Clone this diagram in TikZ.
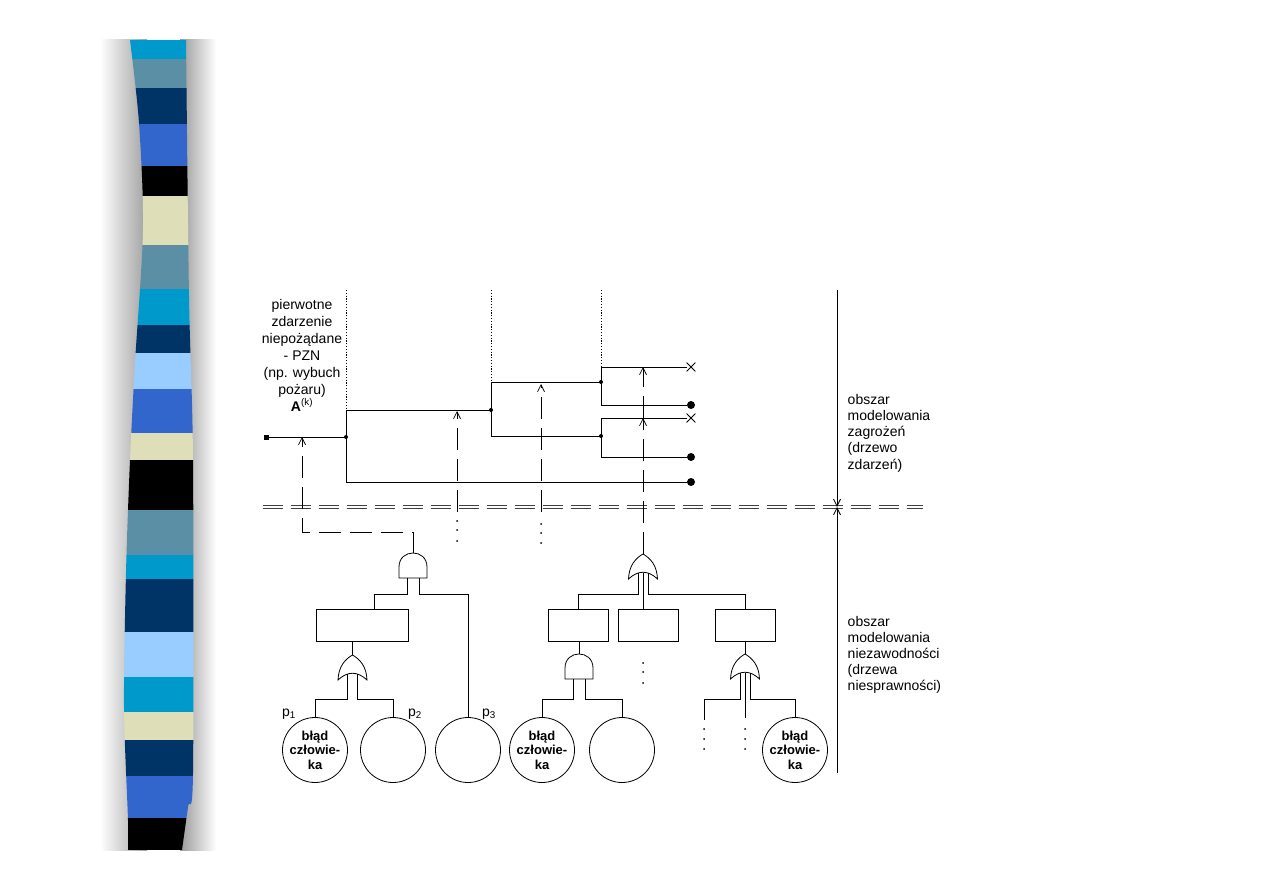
\documentclass[tikz,border=0pt]{standalone}
\usepackage{fontspec}
\setmainfont{Liberation Sans}
\usetikzlibrary{arrows.meta,shapes.misc}

\definecolor{stcyan}{HTML}{0099CC}
\definecolor{stgrey}{HTML}{5A8FA6}
\definecolor{stnavy}{HTML}{003366}
\definecolor{stblue}{HTML}{3366CC}
\definecolor{stbeige}{HTML}{DEDEB8}
\definecolor{stlight}{HTML}{99CCFF}

\begin{document}
\begin{tikzpicture}[
  x=1pt, y=-1pt, line width=0.8pt,
  every node/.style={font=\fontsize{14}{17}\selectfont},
  event/.style={draw, minimum height=32pt, minimum width=60pt, inner sep=0pt},
  basic/.style={draw, circle, minimum size=65pt, inner sep=0pt, align=center,
    font=\fontsize{13}{14.5}\selectfont\bfseries},
  endfail/.style={draw, cross out, minimum size=8pt, inner sep=0pt, line width=0.8pt},
  endok/.style={fill, circle, minimum size=8pt, inner sep=0pt},
  startsq/.style={fill, rectangle, minimum size=5pt, inner sep=0pt},
  dashline/.style={dash pattern=on 22pt off 9pt, line width=0.7pt},
  guide/.style={dash pattern=on 1.2pt off 1.6pt, line width=0.6pt},
  sepline/.style={line width=0.7pt, draw=black!75, dash pattern=on 20pt off 8pt},
  barb/.tip={Straight Barb[length=7pt, width=7pt]},
  andgate/.pic={
    \draw[fill=white] (-14,0) -- (-14,-11) .. controls (-14,-29.7) and (14,-29.7) .. (14,-11) -- (14,0) -- cycle;
    \coordinate (-top) at (0,-25);
    \coordinate (-l) at (-6,0);
    \coordinate (-r) at (6,0);
  },
  orgate/.pic={
    \draw[fill=white] (-14.5,0) .. controls (-14,-14) and (-7,-21) .. (0,-25)
      .. controls (7,-21) and (14,-14) .. (14.5,0)
      .. controls (5,-9) and (-5,-9) .. cycle;
    \coordinate (-top) at (0,-25);
    \coordinate (-l) at (-5,-6);
    \coordinate (-c) at (0,-6.5);
    \coordinate (-r) at (5,-6);
  }
]
\fill[white] (0,0) rectangle (1263,893);

% striped side bar
\shade[left color=white, right color=gray!75] (100,40) rectangle (147,850);
\shade[left color=gray!80, right color=white] (180,40) rectangle (216,850);
\begin{scope}
  \clip plot[smooth] coordinates {(130,40) (139,123) (143,230) (135,363) (130,460)
      (126,573) (124,707) (128,820) (128,850)}
    -- plot[smooth] coordinates {(182,850) (188,807) (193,773) (193,460) (189,297) (186,40)} -- cycle;
  \foreach \ya/\yb/\c in {40/59/stcyan, 59/88/stgrey, 88/124/stnavy, 124/166/stblue,
      166/196/black, 196/245/stbeige, 245/289/stgrey, 289/325/stcyan, 325/353/stnavy,
      353/389/stlight, 389/433/stblue, 433/460/stbeige, 460/510/black, 510/555/stgrey,
      555/579/stcyan, 579/632/stnavy, 632/677/stlight, 677/712/stcyan, 712/740/stbeige,
      740/776/stnavy, 776/818/stblue, 818/850/black}
    \fill[\c] (110,\ya) rectangle (210,\yb);
\end{scope}

% event tree
\coordinate (top) at (0,290);
\node[startsq] (pzn) at (266,437) {};
\coordinate (j0) at (346,437);
\coordinate (j1) at (491,410);
\coordinate (j2) at (601,382);
\coordinate (j3) at (601,436);
\node[endfail] (x1) at (691,367) {};
\node[endok] (o1) at (691,405) {};
\node[endfail] (x2) at (691,418) {};
\node[endok] (o2) at (691,457) {};
\node[endok] (o3) at (691,482) {};

\draw[guide] (j0 |- top) -- (j0 |- j1);
\draw[guide] (j1 |- top) -- (j1 |- j2);
\draw[guide] (j2 |- top) -- (j2 |- x1);

\draw (pzn) -- (j0);
\draw (j0) |- (j1);
\draw (j0) |- (o3);
\draw (j1) |- (j2);
\draw (j1) |- (j3);
\draw (j2) |- (x1);
\draw (j2) |- (o1);
\draw (j3) |- (x2);
\draw (j3) |- (o2);
\foreach \j in {j0,j1,j2,j3}
  \fill (\j) circle (2);

\node[align=center] (pzntxt) at (302,355)
  {pierwotne\\zdarzenie\\niepożądane\\- PZN\\(np. wybuch\\pożaru)\\\textbf{A}\textsuperscript{(k)}};

% zone boundary
\coordinate (sl) at (263,507);
\coordinate (sr) at (923,507);
\draw[sepline] ([yshift=1.2pt]sl) -- ([yshift=1.2pt]sr);
\draw[sepline] ([yshift=-1.2pt]sl) -- ([yshift=-1.2pt]sr);
\coordinate (zt) at (837,290);
\coordinate (zm) at (837,507);
\coordinate (zb) at (837,773);
\draw[-{barb}] (zt) -- (zm);
\draw[-{barb}] (zb) -- (zm);
\node[align=left, anchor=west, font=\fontsize{14}{16.3}\selectfont] (zone1) at (844,433)
  {obszar\\modelowania\\zagrożeń\\(drzewo\\zdarzeń)};
\node[align=left, anchor=west, font=\fontsize{14}{16}\selectfont] (zone2) at (844,655)
  {obszar\\modelowania\\niezawodności\\(drzewa\\niesprawności)};

% fault trees
\node[event, minimum width=92pt] (r1) at (362,625) {};
\node[event] (r2) at (578,625) {};
\node[event] (r3) at (648,625) {};
\node[event] (r4) at (745,625) {};

\node[basic] (c1) at (315,750) {błąd\\człowie-\\ka};
\node[basic] (c2) at (393,750) {};
\node[basic] (c3) at (468,750) {};
\node[basic] (c4) at (542,750) {błąd\\człowie-\\ka};
\node[basic] (c5) at (622,750) {};
\node[basic] (c6) at (795,750) {błąd\\człowie-\\ka};

\node (p1) at (289,714) {p\textsubscript{1}};
\node (p2) at (415,714) {p\textsubscript{2}};
\node (p3) at (489,714) {p\textsubscript{3}};

\pic (g1) at (413,578) {andgate};
\pic (g2) at (643,579) {orgate};
\pic (g3) at (352.5,680) {orgate};
\pic (g4) at (579,679) {andgate};
\pic (g5) at (745,679) {orgate};

\coordinate (lvA) at (0,594);
\coordinate (lvB) at (0,699);
\coordinate (f1) at (704,720);
\coordinate (f2) at (745,718);

\draw (g1-l) -- (g1-l |- lvA) -| ([xshift=12pt]r1.north);
\draw (g1-r) -- (g1-r |- lvA) -| (c3.north);
\draw (g3-top |- r1.south) -- (g3-top);
\draw (g3-l) -- (g3-l |- lvB) -| (c1.north);
\draw (g3-r) -- (g3-r |- lvB) -| (c2.north);
\draw (g2-l) -- (g2-l |- lvA) -| (r2.north);
\draw (g2-c) -- (g2-c |- r3.north);
\draw (g2-r) -- (g2-r |- lvA) -| (r4.north);
\draw (g4-top |- r2.south) -- (g4-top);
\draw (g4-l) -- (g4-l |- lvB) -| (c4.north);
\draw (g4-r) -- (g4-r |- lvB) -| (c5.north);
\draw (r4.south) -- (g5-top);
\draw (g5-l) -- (g5-l |- lvB) -| (f1);
\draw (g5-c) -- (f2);
\draw (g5-r) -- (g5-r |- lvB) -| (c6.north);

% links between the two trees
\coordinate (k0) at (302,437);
\coordinate (k1) at (457,411);
\coordinate (k1s) at (457,512);
\coordinate (k2) at (541,384);
\coordinate (k2s) at (541,512);
\coordinate (k3) at (643,418);
\coordinate (k4) at (643,367);
\draw[dashline, -{barb}] (g1-top) |- (k0 |- 0,532) -- (k0);
\draw[dashline, -{barb}] (k1s) -- (k1);
\draw[dashline, -{barb}] (k2s) -- (k2);
\draw[dashline, -{barb}] (g2-top) -- (k3);
\draw[dashline, -{barb}] (k3) -- (k4);

\foreach \y in {521,530,541}
  \fill (k1 |- 0,\y) circle (1);
\foreach \y in {524,533,543}
  \fill (k2 |- 0,\y) circle (1);
\foreach \y in {663,672,683}
  \fill (g2-c |- 0,\y) circle (1);
\foreach \y in {729,739,749} {
  \fill (f1 |- 0,\y) circle (1);
  \fill (f2 |- 0,\y) circle (1);
}
\end{tikzpicture}
\end{document}
